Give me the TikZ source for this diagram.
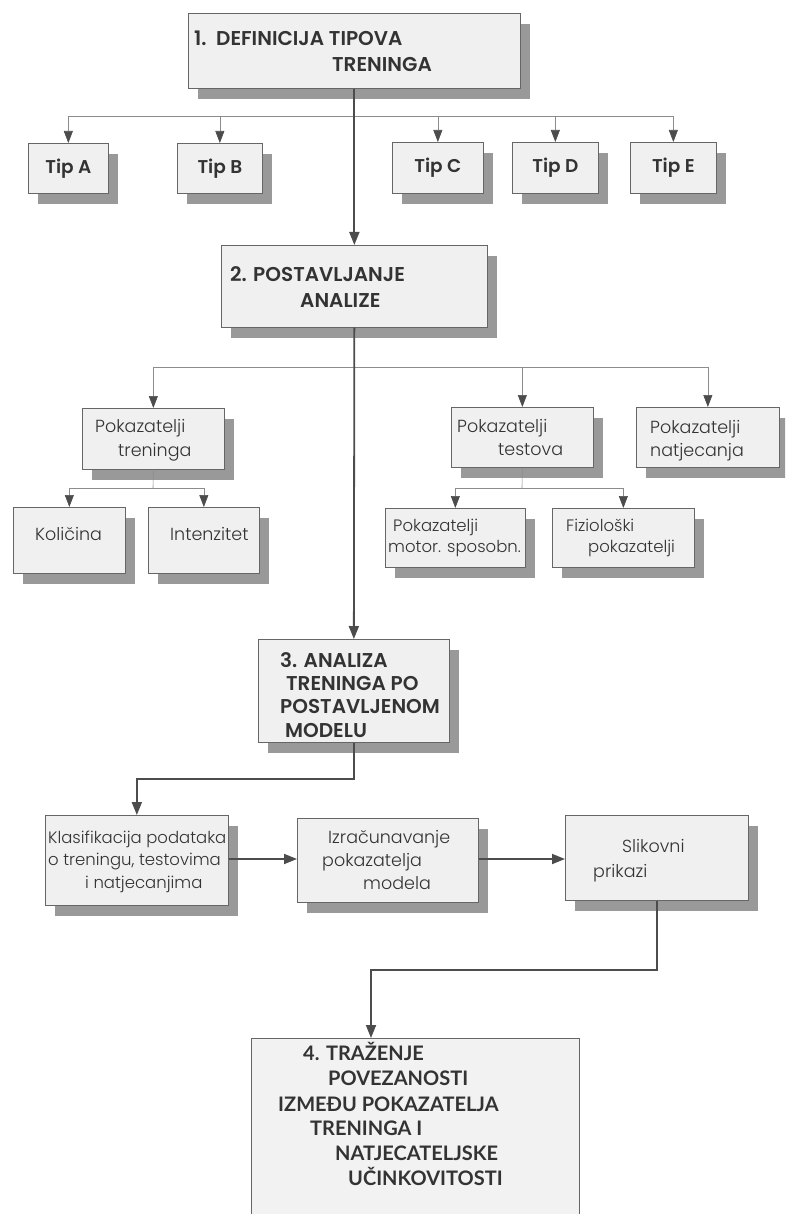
\documentclass[tikz,border=0pt]{standalone}
\usepackage{fontspec}
\newfontfamily\headfont{Poppins SemiBold}
\newfontfamily\bodyfont{Poppins Light}
\newfontfamily\gillfont{Lato Bold}
\usetikzlibrary{arrows.meta,shadows}

\begin{document}
\begin{tikzpicture}[x=1pt,y=-1pt,
  panel/.style={draw=black!60, line width=0.7pt, fill=black!6, anchor=north west, inner sep=0pt,
    drop shadow={shadow xshift=10pt, shadow yshift=-11pt, fill=black!40, opacity=1}},
  plainpanel/.style={draw=black!60, line width=0.7pt, fill=black!5, anchor=north west, inner sep=0pt},
  head/.style={font=\headfont\fontsize{20}{24}\selectfont, text=black!80, anchor=base west, inner sep=0pt},
  tiplabel/.style={font=\headfont\fontsize{18.5}{22}\selectfont, text=black!80},
  body/.style={font=\bodyfont\fontsize{17.5}{21}\selectfont, text=black!80, anchor=base west, inner sep=0pt},
  small/.style={font=\bodyfont\fontsize{16.5}{20}\selectfont, text=black!80, anchor=base west, inner sep=0pt},
  last/.style={font=\gillfont\fontsize{20}{24}\selectfont, text=black!80, anchor=base west, inner sep=0pt},
  trunk/.style={draw=black!70, line width=1.8pt, -{Triangle[length=13pt,width=10pt]}},
  branch/.style={draw=black!45, line width=0.6pt, -{Triangle[length=12pt,width=9pt,color=black!70]}},
]
\clip (0,0) rectangle (785,1214);

% 1. definicija
\node[panel, minimum width=332, minimum height=75] (def) at (188,13) {};
\node[head] (defa) at (194,46) {1.\ \ DEFINICIJA TIPOVA};
\node[head] (defb) at (332,72) {TRENINGA};

\node[panel, minimum width=80, minimum height=50, tiplabel] (tipA) at (28,143) {Tip A};
\node[panel, minimum width=85, minimum height=50, tiplabel] (tipB) at (177,143) {Tip B};
\node[panel, minimum width=91, minimum height=51, tiplabel] (tipC) at (392,142) {Tip C};
\node[panel, minimum width=86, minimum height=51, tiplabel] (tipD) at (512,142) {Tip D};
\node[panel, minimum width=86, minimum height=51, tiplabel] (tipE) at (630,142) {Tip E};

\coordinate (tipbar) at (354,116);
\foreach \t in {tipA,tipB,tipC,tipD,tipE}
  \draw[branch] (tipbar) -| (\t.north);

% 2. postavljanje
\node[panel, minimum width=266, minimum height=82] (post) at (221,245) {};
\node[head] (posta) at (230,282) {2. POSTAVLJANJE};
\node[head] (postb) at (300,307) {ANALIZE};

\node[panel, minimum width=142, minimum height=61] (poktr) at (82,408) {};
\node[body] at (95,432) {Pokazatelji};
\node[body] at (118,456) {treninga};
\node[panel, minimum width=142, minimum height=60] (pokte) at (451,407) {};
\node[body] at (457,432) {Pokazatelji};
\node[body] at (498,455) {testova};
\node[panel, minimum width=143, minimum height=60] (pokna) at (636,407) {};
\node[body] at (650,433) {Pokazatelji};
\node[body] at (650,456) {natjecanja};

\coordinate (pokbar) at (354,367);
\foreach \t in {poktr,pokte,pokna}
  \draw[branch] (pokbar) -| (\t.north);

\node[panel, minimum width=112, minimum height=66] (kol) at (13,507) {};
\node[body] at (35,540) {Količina};
\node[panel, minimum width=111, minimum height=66] (inten) at (148,507) {};
\node[body] at (170,540) {Intenzitet};
\node[panel, minimum width=140, minimum height=59] (motor) at (385,508) {};
\node[small] at (393,531) {Pokazatelji};
\node[small] at (388,552) {motor. sposobn.};
\node[panel, minimum width=142, minimum height=59] (fiz) at (552,508) {};
\node[small] at (566,531) {Fiziološki};
\node[small] at (588,552) {pokazatelji};

\coordinate (trbar) at (153,488);
\coordinate (tebar) at (522,488);
\draw[draw=black!45, line width=0.6pt] (poktr.south) -- (trbar);
\draw[draw=black!45, line width=0.6pt] (pokte.south) -- (tebar);
\foreach \t in {kol,inten}
  \draw[branch] (trbar) -| (\t.north);
\foreach \t in {motor,fiz}
  \draw[branch] (tebar) -| (\t.north);

% 3. analiza
\node[panel, minimum width=191, minimum height=103] (anal) at (258,639) {};
\node[head] at (280,667) {3. ANALIZA};
\node[head] at (286,690) {TRENINGA PO};
\node[head] at (280,713) {POSTAVLJENOM};
\node[head] at (285,737) {MODELU};

\node[panel, minimum width=183, minimum height=90] (klas) at (45,815) {};
\node[small] at (48,843) {Klasifikacija podataka};
\node[small] at (48,865) {o treningu, testovima};
\node[small] at (85,888) {i natjecanjima};
\node[panel, minimum width=181, minimum height=84] (izrac) at (297,818) {};
\node[body] at (328,843) {Izračunavanje};
\node[body] at (322,866) {pokazatelja};
\node[body] at (363,889) {modela};
\node[panel, minimum width=183, minimum height=85] (slik) at (565,815) {};
\node[body] at (622,852) {Slikovni};
\node[body] at (593,877) {prikazi};

% 4. trazenje
\node[plainpanel, minimum width=328, minimum height=220] (traz) at (251,1038) {};
\node[last] at (303,1060) {4. TRAŽENJE};
\node[last] at (328,1085) {POVEZANOSTI};
\node[last] at (278,1111) {IZMEĐU POKAZATELJA};
\node[last] at (310,1135) {TRENINGA I};
\node[last] at (335,1160) {NATJECATELJSKE};
\node[last] at (348,1185) {UČINKOVITOSTI};

% glavni tok
\coordinate (row) at (0,859);
\coordinate (bend) at (371,970);
\draw[trunk] (def.south) -- (post.north);
\draw[trunk] (post.south) -- (anal.north);
\draw[trunk] (anal.south) -- ++(0,36) -| (klas.north);
\draw[trunk] (klas.east |- row) -- (izrac.west |- row);
\draw[trunk] (izrac.east |- row) -- (slik.west |- row);
\draw[trunk] (slik.south) |- (bend) -- (bend |- traz.north);
\end{tikzpicture}
\end{document}
